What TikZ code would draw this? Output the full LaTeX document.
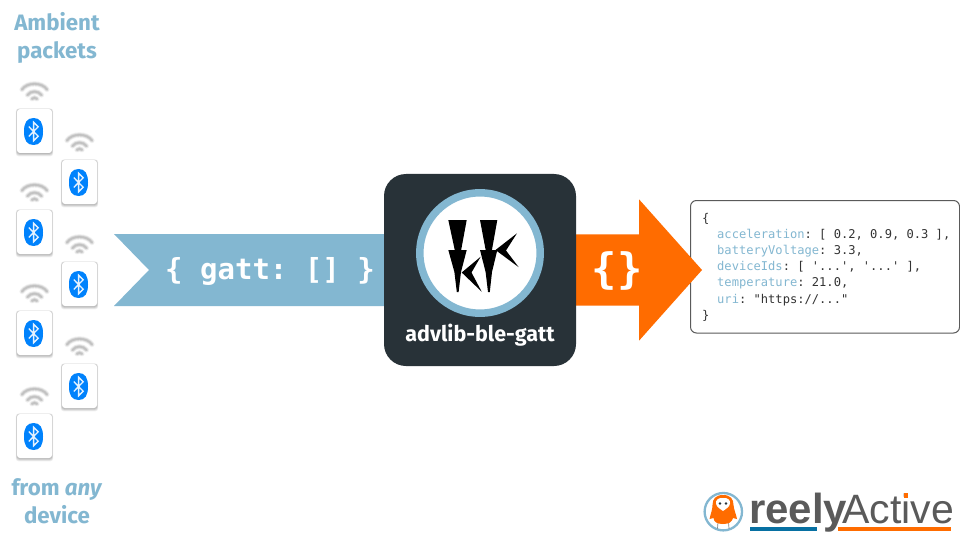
\documentclass[tikz,border=0pt]{standalone}
\usepackage{fontspec}
\setmainfont{Fira Sans}
\setmonofont{DejaVu Sans Mono}
\newfontfamily\logofont{Liberation Sans}
\definecolor{rablue}{HTML}{83B7D1}
\definecolor{radark}{HTML}{283238}
\definecolor{raorange}{HTML}{FF6C00}
\definecolor{btblue}{HTML}{0082FC}
\definecolor{jsontext}{HTML}{333333}
\definecolor{logogray}{HTML}{5A5A5A}
\definecolor{logoblue}{HTML}{0770A2}
\tikzset{
  heading/.style={font=\fontsize{22.3}{22}\selectfont\bfseries, text=rablue, inner sep=0pt, anchor=base},
  jsonline/.style={font=\ttfamily\fontsize{12.1}{12}\selectfont, text=jsontext, inner sep=0pt, anchor=base west},
  wave/.style={draw=black, line cap=round, fill=none},
}
\newcommand{\jsonkey}[1]{\textcolor{rablue}{#1}}
% one device: card with Bluetooth badge and a wifi sign above it; #1,#2 = top-left of the card
\newcommand{\blecard}[2]{%
  \begin{scope}[shift={(#1,#2)}]
    % wifi sign
    \foreach \w/\o in {5.6/0.035,4.6/0.04,3.6/0.05,2.6/0.06,1.6/0.07}{
      \draw[wave,line width=\w pt,opacity=\o] (5,-19.5) .. controls (10,-27) and (25,-27) .. (30,-19.5);
      \draw[wave,line width=\w pt,opacity=\o] (10.5,-14) .. controls (14,-18.5) and (21,-18.5) .. (24.5,-14);
      \draw[wave,line width=\w pt,opacity=\o] (15,-10.2) .. controls (16.5,-11.5) and (18.5,-11.5) .. (20,-10.2);
    }
    % card shadow
    \foreach \g/\m/\t in {3.4/1.2/0.6,2.7/0.9/0.4,2/0.6/0.2,1.4/0.4/0,0.8/0.1/0}{
      \fill[black,opacity=0.06,rounded corners=3pt] (-\m,-\t) rectangle ({35+\m},{44+\g});
    }
    \fill[white,rounded corners=3pt] (0,0) rectangle (35,44);
    % badge
    \fill[btblue] (16.6,9) .. controls (23,9) and (26,13.5) .. (26,22.5)
       .. controls (26,31.5) and (23,36) .. (16.6,36)
       .. controls (10,36) and (7,31.5) .. (7,22.5)
       .. controls (7,13.5) and (10,9) .. (16.6,9) -- cycle;
    \draw[white,opacity=0.9,line width=1.3pt,line join=miter]
       (11.8,17.6) -- (21.2,27.2) -- (16.6,31.8) -- (16.6,13.2) -- (21.2,17.8) -- (11.8,27.4);
  \end{scope}}
\begin{document}
\begin{tikzpicture}[x=1pt,y=-1pt]
\useasboundingbox (0,0) rectangle (960,540);
\fill[white] (0,0) rectangle (960,540);

% headings
\node[heading] (ambient) at (57,31) {Ambient};
\node[heading] (packets) at (57,58.5) {packets};
\node[heading] (fromany) at (57,495.5) {from \textit{any}};
\node[heading] (device) at (57,523.5) {device};

% devices
\blecard{17}{109}
\blecard{62}{160}
\blecard{17}{210}
\blecard{62}{262}
\blecard{17}{311}
\blecard{62}{364}
\blecard{17}{414}

% input banner
\fill[rablue] (114,234) -- (386,234) -- (386,306) -- (114,306) -- (149,270) -- cycle;
\node[font=\ttfamily\bfseries\fontsize{29}{30}\selectfont, text=white, inner sep=0pt, anchor=base] (gatt) at (270,279) {\{ gatt: [] \}};

% JSON box
\draw[draw=logogray,line width=1pt,fill=white,rounded corners=6pt] (690.5,200.5) rectangle (959.5,333);
\node[jsonline] (j0) at (702,222) {\{};
\node[jsonline] (j1) at (717,238.2) {\jsonkey{acceleration}: [ 0.2, 0.9, 0.3 ],};
\node[jsonline] (j2) at (717,254.4) {\jsonkey{batteryVoltage}: 3.3,};
\node[jsonline] (j3) at (717,270.6) {\jsonkey{deviceIds}: [ '...', '...' ],};
\node[jsonline] (j4) at (717,286.8) {\jsonkey{temperature}: 21.0,};
\node[jsonline] (j5) at (717,303) {\jsonkey{uri}: "https://..."};
\node[jsonline] (j6) at (702,319.2) {\}};

% output arrow
\fill[raorange] (574,234.3) -- (639,234.3) -- (639,199.3) -- (702,270) -- (639,340.7) -- (639,305.5) -- (574,305.5) -- cycle;
\node[font=\ttfamily\bfseries\fontsize{42}{42}\selectfont, text=white, inner sep=0pt, anchor=center] (braces) at (617,270.5) {\{\}};

% module
\fill[radark,rounded corners=22pt] (384,174) rectangle (576,366);
\draw[rablue,line width=7.5pt,fill=white] (480,253) circle[radius=60.2];
\fill[black] (448.3,220) -- (466.7,220) -- (460.6,253) -- (455.4,253) -- cycle;
\fill[black] (480,220) -- (497.3,220) -- (491.4,253) -- (486.2,253) -- cycle;
\fill[black] (448.3,250) -- (466.7,250) -- (461,272) -- (458.6,292) -- (456.8,292) -- (454.4,272) -- cycle;
\fill[black] (480,250) -- (497.3,250) -- (492,272) -- (489.8,292) -- (488,292) -- (485.6,272) -- cycle;
\fill[black] (461.7,272.5) -- (480.7,256.7) -- (471.5,272.5) -- (481.7,291.7) -- cycle;
\fill[black] (495.5,250) -- (517,233.3) -- (506,250.5) -- (518.7,267.2) -- cycle;
\node[font=\fontsize{21.5}{21}\selectfont\bfseries, text=white, inner sep=0pt, anchor=base] (modname) at (480,341.5) {advlib-ble-gatt};

% logo
\draw[rablue,line width=2.3pt,fill=white] (723.3,511.7) circle[radius=18.7];
\draw[gray,line width=0.7pt] (718,522) -- (717.5,528.5) (728.5,522) -- (729,528.5);
\fill[raorange] (723,495) .. controls (730.5,495) and (733.5,499) .. (733.5,505)
   .. controls (734,510) and (736,514) .. (737,519) -- (733,518) .. controls (732,522) and (729,524) .. (723,524)
   .. controls (717,524) and (714,522) .. (713.5,518) -- (709.5,519) .. controls (710.5,514) and (712.5,510) .. (712.5,505)
   .. controls (712.5,499) and (715.5,495) .. (723,495) -- cycle;
\fill[white] (723,498) .. controls (727.5,497.5) and (730.5,500) .. (730,503.5) .. controls (729.5,507) and (726,509) .. (723,511)
   .. controls (720,509) and (716.5,507) .. (716,503.5) .. controls (715.5,500) and (718.5,497.5) .. (723,498) -- cycle;
\fill[radark] (720,503.5) circle[radius=1.3] (726,503.5) circle[radius=1.3];
\node[font=\logofont\bfseries\fontsize{42}{41}\selectfont, text=logogray, inner sep=0pt, anchor=base west] (reely) at (749,523) {reely};
\node[font=\logofont\fontsize{41}{41}\selectfont, text=logogray, inner sep=0pt, anchor=base west] (active) at (842,523) {Active};
\fill[logoblue] (750,527) rectangle (817,531);
\fill[raorange] (838,527) rectangle (951,531);
\fill[raorange] (904,493) rectangle (908,497.5);
\end{tikzpicture}
\end{document}
